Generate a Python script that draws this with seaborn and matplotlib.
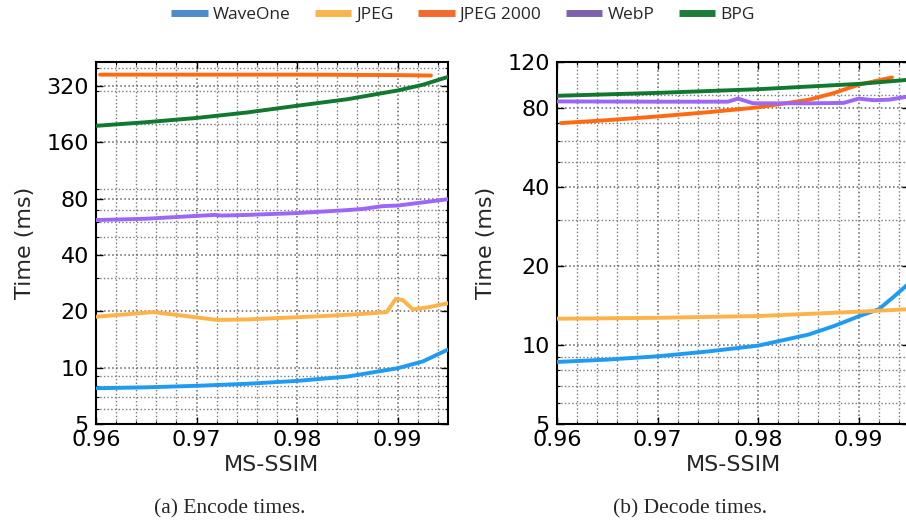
import numpy as np
import pandas as pd
import matplotlib
matplotlib.use("Agg")
import matplotlib.pyplot as plt
import matplotlib.ticker as mticker
from matplotlib.lines import Line2D
import seaborn as sns

# ---------------- data ----------------
codecs = ["WaveOne", "JPEG", "JPEG 2000", "WebP", "BPG"]

# Encode times (ms)
enc_wave_x = [0.96, 0.965, 0.97, 0.975, 0.98, 0.985, 0.99, 0.9925, 0.995]
enc_wave_y = [7.76, 7.85, 8.0, 8.2, 8.5, 8.96, 9.93, 10.8, 12.5]
enc_jpeg_x = [0.96, 0.9625, 0.9657, 0.9685, 0.972, 0.975, 0.978, 0.982, 0.986,
              0.9889, 0.9898, 0.9905, 0.9915, 0.993, 0.995]
enc_jpeg_y = [18.7, 19.2, 19.8, 19.0, 18.0, 18.1, 18.4, 18.8, 19.3,
              19.8, 23.3, 23.0, 20.5, 21.0, 22.1]
enc_j2k_x = [0.9604, 0.965, 0.97, 0.975, 0.98, 0.985, 0.99, 0.9933]
enc_j2k_y = [368, 368, 368, 368, 368, 367, 366, 364]
enc_webp_x = [0.96, 0.965, 0.9695, 0.9718, 0.9725, 0.975, 0.98, 0.985, 0.9865,
              0.9885, 0.99, 0.995]
enc_webp_y = [61.5, 62.5, 64.5, 65.5, 65.0, 65.5, 67.0, 69.5, 70.5, 73.0, 73.5, 79.5]
enc_bpg_x = [0.96, 0.965, 0.97, 0.975, 0.98, 0.985, 0.99, 0.9925, 0.995]
enc_bpg_y = [196, 205, 216, 231, 251, 272, 303, 325, 358]

# Decode times (ms)
dec_wave_x = [0.96, 0.965, 0.97, 0.975, 0.98, 0.985, 0.9875, 0.99, 0.992, 0.9935, 0.995]
dec_wave_y = [8.62, 8.8, 9.06, 9.45, 9.95, 10.96, 11.8, 12.87, 13.7, 15.3, 17.2]
dec_jpeg_x = [0.96, 0.97, 0.98, 0.99, 0.995]
dec_jpeg_y = [12.6, 12.7, 12.9, 13.4, 13.7]
dec_j2k_x = [0.9604, 0.965, 0.97, 0.975, 0.98, 0.985, 0.9875, 0.99, 0.9933]
dec_j2k_y = [70.2, 72.0, 74.4, 77.2, 80.6, 86.1, 91.3, 98.3, 104.8]
dec_webp_x = [0.96, 0.97, 0.977, 0.978, 0.9795, 0.985, 0.9885, 0.99, 0.9915, 0.993, 0.995]
dec_webp_y = [84.9, 84.7, 84.7, 87.0, 83.5, 83.5, 83.8, 87.0, 85.8, 86.2, 88.7]
dec_bpg_x = [0.96, 0.97, 0.98, 0.99, 0.995]
dec_bpg_y = [89.2, 91.5, 94.5, 99.0, 102.7]

enc_yticks = [5, 10, 20, 40, 80, 160, 320]
dec_yticks = [5, 10, 20, 40, 80, 120]
xticks = [0.96, 0.97, 0.98, 0.99]
subcaptions = ["(a) Encode times.", "(b) Decode times."]

line_colors = {"WaveOne": "#1f9bf2", "JPEG": "#fdb34a", "JPEG 2000": "#ff6a10",
               "WebP": "#9d66f6", "BPG": "#10782f"}
legend_colors = {"WaveOne": "#4f8acb", "JPEG": "#f9b54c", "JPEG 2000": "#f26a2c",
                 "WebP": "#7e62ae", "BPG": "#1c7d3a"}

def frame(series):
    rows = []
    for name, xs, ys in series:
        for a, b in zip(xs, ys):
            rows.append({"codec": name, "msssim": a, "time": b})
    return pd.DataFrame(rows)

enc_df = frame([("WaveOne", enc_wave_x, enc_wave_y), ("JPEG", enc_jpeg_x, enc_jpeg_y),
                ("JPEG 2000", enc_j2k_x, enc_j2k_y), ("WebP", enc_webp_x, enc_webp_y),
                ("BPG", enc_bpg_x, enc_bpg_y)])
dec_df = frame([("WaveOne", dec_wave_x, dec_wave_y), ("JPEG", dec_jpeg_x, dec_jpeg_y),
                ("JPEG 2000", dec_j2k_x, dec_j2k_y), ("WebP", dec_webp_x, dec_webp_y),
                ("BPG", dec_bpg_x, dec_bpg_y)])

# ---------------- style ----------------
sns.set_style("ticks")
plt.rcParams["font.family"] = ["DejaVu Sans"]

fig = plt.figure(figsize=(9.06, 5.31), dpi=100)
W, H = 906, 531
ax1 = fig.add_axes([96 / W, 1 - 424 / H, (448 - 96) / W, (424 - 62) / H])
ax2 = fig.add_axes([557 / W, 1 - 424 / H, (909 - 557) / W, (424 - 62) / H])

def style_axis(ax, df, ylim, yticks):
    sns.lineplot(data=df, x="msssim", y="time", hue="codec", palette=line_colors,
                 hue_order=codecs, estimator=None, sort=True, linewidth=2.8,
                 legend=False, ax=ax, zorder=3)
    ax.set_yscale("log")
    ax.set_xlim(0.96, 0.995)
    ax.set_ylim(*ylim)
    ax.set_xticks(xticks)
    ax.xaxis.set_major_formatter(mticker.FormatStrFormatter("%.2f"))
    ax.xaxis.set_minor_locator(mticker.MultipleLocator(0.002))
    ax.yaxis.set_major_locator(mticker.FixedLocator(yticks))
    ax.yaxis.set_major_formatter(mticker.FixedFormatter([str(t) for t in yticks]))
    ax.yaxis.set_minor_locator(mticker.LogLocator(base=10, subs=np.arange(2, 10)))
    ax.yaxis.set_minor_formatter(mticker.NullFormatter())
    ax.grid(True, which="major", linestyle=":", color="#606060", linewidth=1.1)
    ax.grid(True, which="minor", linestyle=":", color="#7a7a7a", linewidth=1.0)
    ax.tick_params(which="both", direction="in", top=True, right=True,
                   labelsize=16, colors="black")
    ax.tick_params(which="major", length=5, width=1.0, pad=5)
    ax.tick_params(which="minor", length=2.5, width=0.8)
    ax.tick_params(axis="x", which="major", pad=4)
    for s in ax.spines.values():
        s.set_linewidth(1.5)
        s.set_color("black")
    ax.set_xlabel("MS-SSIM", fontsize=16, labelpad=4)
    ax.set_ylabel("Time (ms)", fontsize=16, labelpad=8)

style_axis(ax1, enc_df, (5, 430), enc_yticks)
style_axis(ax2, dec_df, (5, 120), dec_yticks)

# legend
handles = [Line2D([], [], color=legend_colors[c], linewidth=5, solid_capstyle="butt")
           for c in codecs]
fig.legend(handles, codecs, loc="center", bbox_to_anchor=(463 / W, 1 - 15 / H),
           ncol=5, frameon=False, handlelength=2.1, handletextpad=0.3,
           columnspacing=1.4, prop={"family": "Open Sans", "size": 12.5})

# subcaptions
fig.text(230 / W, 1 - 509 / H, subcaptions[0], ha="center", va="center",
         family="Liberation Serif", fontsize=15.5)
fig.text(690 / W, 1 - 509 / H, subcaptions[1], ha="center", va="center",
         family="Liberation Serif", fontsize=15.5)

fig.savefig("out.png", dpi=100)
